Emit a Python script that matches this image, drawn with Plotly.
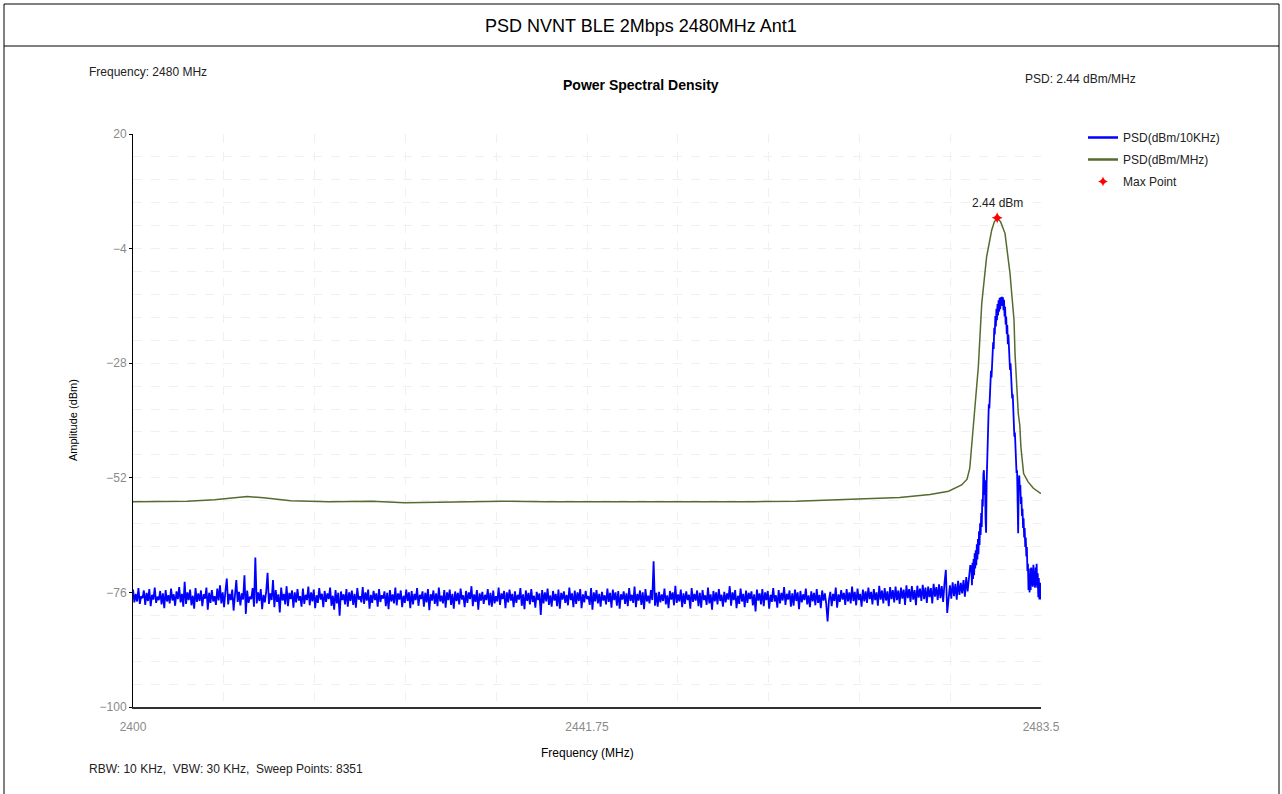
import numpy as np
import plotly.graph_objects as go

# ---------------- data ----------------
green_freq = [2400.0, 2402.5, 2405.0, 2407.5, 2409.0, 2410.5, 2412.0, 2414.5, 2418.0, 2422.0,
              2425.0, 2429.0, 2434.0, 2438.0, 2443.0, 2447.5, 2452.0, 2457.0, 2461.0, 2466.0,
              2470.5, 2473.3, 2475.0, 2476.2, 2476.7, 2476.95, 2477.1, 2477.28, 2477.43, 2477.74,
              2478.05, 2478.5, 2478.97, 2479.21, 2479.47, 2479.79, 2480.19, 2480.65, 2480.81, 2481.02,
              2481.11, 2481.25, 2481.41, 2481.55, 2481.65, 2481.9, 2482.3, 2482.8, 2483.5]
green_val = [-57.0, -57.0, -56.9, -56.6, -56.2, -55.9, -56.2, -56.8, -57.0, -56.9,
             -57.2, -57.0, -56.9, -57.0, -57.0, -57.1, -57.0, -57.0, -56.9, -56.5,
             -56.1, -55.5, -54.8, -53.5, -52.3, -50.0, -46.0, -42.0, -37.8, -28.7,
             -15.5, -5.7, -0.1, 1.6, 2.44, 1.6, -0.8, -9.2, -13.5, -19.0,
             -26.0, -33.0, -38.5, -41.0, -45.5, -51.1, -52.8, -54.2, -55.3]

# blue noise floor, 2400 MHz onwards, one value every 0.125 MHz
floor_start = 2400.0
floor_step = 0.125
blue_floor = [
    -75.4, -78.1, -76.3, -77.9, -75.1, -78.4, -76.8, -77.2, -75.6, -78.6,
    -76.1, -77.8, -75.3, -78.9, -76.5, -77.5, -75.0, -78.2, -76.9, -77.6,
    -75.7, -78.5, -76.2, -79.3, -75.5, -77.9, -76.6, -78.3, -75.2, -77.7,
    -76.4, -78.8, -75.8, -77.4, -74.9, -78.1, -76.3, -79.0, -73.8, -78.4,
    -76.0, -77.6, -75.4, -78.7, -76.7, -79.4, -75.1, -78.0, -76.2, -77.8,
    -75.6, -78.9, -76.4, -77.3, -75.0, -79.6, -76.1, -78.2, -75.5, -77.9,
    -76.8, -78.6, -75.2, -77.7, -74.5, -78.3, -76.0, -79.1, -75.7, -73.1,
    -78.5, -76.3, -77.6, -75.4, -79.8, -76.1, -73.4, -78.0, -75.9, -78.7,
    -76.2, -77.5, -72.4, -80.5, -75.6, -78.2, -76.9, -77.4, -75.1, -79.0,
    -68.7, -78.3, -76.0, -77.8, -75.3, -79.5, -76.5, -78.1, -75.8, -71.9,
    -78.4, -76.2, -77.6, -73.4, -79.1, -75.5, -78.0, -76.4, -80.2, -75.0,
    -77.7, -76.3, -78.5, -74.7, -78.9, -76.1, -77.4, -75.6, -79.2, -76.0,
    -78.1, -75.3, -77.7, -76.8, -79.0, -75.2, -78.4, -76.5, -77.6, -74.8,
    -78.7, -76.0, -77.9, -75.4, -79.3, -76.6, -78.2, -75.1, -77.5, -76.3,
    -79.1, -75.7, -78.0, -76.2, -77.4, -75.0, -78.8, -76.7, -79.6, -75.5,
    -78.3, -76.1, -80.9, -75.8, -77.6, -76.4, -78.5, -75.3, -79.0, -76.0,
    -77.8, -75.6, -78.6, -76.3, -79.2, -75.1, -77.5, -76.8, -78.1, -74.9,
    -78.4, -76.0, -77.7, -75.4, -79.4, -76.5, -78.2, -75.7, -77.6, -76.2,
    -79.0, -75.3, -78.0, -76.6, -77.3, -75.8, -78.9, -76.1, -79.5, -75.5,
    -77.9, -76.4, -78.3, -75.0, -78.7, -76.2, -77.5, -75.6, -79.1, -76.7,
    -78.2, -75.4, -77.8, -76.0, -79.3, -75.7, -78.5, -76.3, -77.6, -75.1,
    -78.8, -76.5, -77.4, -75.8, -79.0, -76.1, -78.1, -75.3, -79.7, -76.4,
    -77.7, -75.6, -78.4, -76.2, -78.9, -75.0, -77.9, -76.7, -78.3, -75.5,
    -79.2, -76.0, -77.6, -75.4, -78.6, -76.3, -79.4, -75.8, -77.8, -76.1,
    -78.5, -75.2, -77.5, -76.6, -79.1, -75.7, -78.2, -76.0, -77.4, -74.7,
    -78.9, -76.4, -78.0, -75.5, -79.6, -76.2, -77.7, -75.9, -78.4, -76.5,
    -77.6, -75.3, -78.7, -76.1, -79.0, -75.6, -78.3, -76.8, -77.9, -75.0,
    -78.6, -76.2, -77.4, -75.7, -79.3, -76.0, -78.1, -75.4, -77.7, -76.3,
    -79.1, -75.8, -78.2, -76.5, -77.5, -75.1, -78.8, -76.4, -79.5, -75.6,
    -77.8, -76.1, -78.5, -75.3, -78.0, -76.7, -79.2, -75.9, -77.6, -76.2,
    -80.7, -75.5, -78.3, -76.0, -77.9, -75.2, -78.6, -76.6, -79.0, -75.7,
    -77.7, -76.3, -78.9, -75.4, -79.4, -76.1, -77.5, -75.8, -78.2, -76.5,
    -78.7, -75.0, -77.6, -76.2, -79.1, -75.6, -78.4, -76.0, -77.8, -75.3,
    -79.3, -76.4, -78.1, -75.7, -77.4, -76.8, -78.6, -75.1, -79.6, -76.0,
    -77.9, -75.5, -78.3, -76.3, -79.0, -75.9, -77.7, -76.6, -78.5, -75.2,
    -78.0, -76.1, -79.2, -75.4, -77.6, -76.0, -78.8, -75.7, -79.4, -76.4,
    -77.5, -75.8, -78.4, -76.2, -78.9, -75.1, -77.8, -76.5, -78.2, -74.8,
    -79.1, -76.3, -77.7, -75.6, -78.6, -76.0, -79.5, -75.3, -77.9, -76.7,
    -78.3, -75.5, -77.6, -69.5, -78.8, -76.1, -79.0, -75.9, -78.1, -76.4,
    -77.8, -75.2, -78.5, -76.6, -79.3, -75.7, -77.5, -76.0, -78.7, -74.6,
    -78.2, -76.4, -77.9, -75.4, -79.1, -76.2, -78.4, -75.8, -77.6, -76.5,
    -79.4, -75.1, -78.0, -76.3, -77.7, -75.6, -78.9, -76.1, -79.2, -75.5,
    -77.6, -76.6, -78.6, -75.0, -78.3, -76.4, -79.6, -75.7, -77.9, -76.0,
    -78.5, -75.3, -77.8, -76.5, -79.0, -75.9, -78.1, -76.2, -77.5, -74.7,
    -78.8, -76.0, -77.6, -75.5, -79.3, -76.7, -78.4, -75.2, -77.9, -76.3,
    -79.1, -75.6, -78.2, -76.1, -77.4, -75.8, -78.7, -76.4, -80.0, -75.4,
    -77.7, -76.2, -78.5, -75.3, -78.9, -76.0, -77.6, -75.7, -79.4, -76.5,
    -78.0, -75.1, -77.9, -76.6, -79.2, -75.5, -78.3, -76.1, -77.7, -74.9,
    -78.6, -76.3, -77.5, -75.6, -79.0, -76.2, -78.8, -75.4, -77.8, -76.0,
    -79.5, -75.7, -78.1, -76.4, -77.6, -75.2, -78.5, -76.6, -79.1, -75.8,
    -77.9, -76.1, -78.7, -75.3, -78.2, -76.5, -79.3, -75.6, -77.7, -76.2,
    -78.4, -82.1, -77.6, -75.9, -78.9, -76.3, -77.8, -75.0, -79.2, -76.4,
    -78.0, -75.5, -77.5, -76.1, -78.6, -75.3, -77.9, -76.0, -78.3, -74.8,
    -77.8, -75.9, -78.7, -75.2, -77.6, -76.3, -79.0, -75.4, -77.9, -75.8,
    -78.2, -75.0, -77.4, -75.9, -78.5, -75.3, -77.6, -76.0, -78.8, -74.6,
    -77.5, -75.6, -78.3, -75.1, -77.7, -75.8, -78.9, -74.9, -77.4, -75.5,
    -78.1, -74.8, -77.6, -75.6, -78.4, -75.0, -77.3, -75.4, -78.6, -74.5,
    -77.2, -75.3, -78.0, -74.7, -77.5, -75.5, -78.7, -74.6, -77.1, -75.2,
    -77.8, -74.4, -77.4, -75.0, -78.2, -74.8, -77.0, -75.1, -78.3, -74.2,
    -76.9, -74.9, -77.6, -74.3, -77.2, -74.7, -78.0, -74.1, -71.3, -80.3,
    -76.7, -74.5, -77.3, -73.9, -76.8, -74.2, -77.5, -73.6, -76.5, -74.0,
    -76.2, -73.4, -76.9, -72.8, -75.8, -73.0, -70.3,
]

# blue emission, 2477.1 MHz onwards, one value every 0.05 MHz
peak_start = 2477.1
peak_step = 0.05
blue_peak = [
    -71.0, -74.5, -69.8, -73.2, -69.0, -72.4, -67.8, -71.0, -67.2, -70.3,
    -65.9, -69.1, -64.8, -68.0, -63.2, -66.1, -61.5, -64.0, -59.4, -62.3,
    -56.5, -58.0, -51.2, -50.4, -55.6, -52.5, -60.5, -63.5, -53.0, -48.5,
    -41.5, -41.8, -36.6, -37.5, -33.0, -34.6, -29.6, -31.0, -26.6, -28.0,
    -23.6, -25.0, -20.6, -22.0, -18.1, -20.3, -16.6, -19.0, -15.6, -18.0,
    -14.8, -17.2, -14.3, -16.7, -14.2, -15.9, -14.1, -16.0, -14.2, -16.9,
    -14.7, -18.2, -16.2, -19.9, -18.2, -21.9, -20.0, -24.0, -22.0, -26.4,
    -25.0, -29.4, -28.0, -32.4, -31.0, -35.4, -34.5, -39.4, -38.5, -43.4,
    -42.5, -47.4, -46.5, -51.0, -50.4, -57.5, -63.6, -53.5, -51.5, -54.5,
    -53.5, -57.5, -56.0, -60.0, -58.5, -62.5, -60.5, -64.5, -62.5, -66.5,
    -64.5, -68.5, -66.5, -71.5, -70.0, -75.5, -72.5, -76.0, -71.0, -75.5,
    -70.8, -74.5, -71.0, -74.8, -70.2, -74.5, -71.5, -75.0, -70.8, -74.5,
    -70.0, -75.0, -72.0, -77.0, -73.0, -77.5, -74.0, -77.5, -74.0,
]

max_freq = 2479.47
max_val = 2.44

x_ticks = [2400, 2441.75, 2483.5]
x_ticktext = ["2400", "2441.75", "2483.5"]
y_ticks = [-100, -76, -52, -28, -4, 20]

# ---------------- figure ----------------
W, H = 1282, 794
L, R, T, B = 133, 1041, 134, 707
FONT = "Liberation Sans, Arial, sans-serif"
BLUE = "#0000ff"
GREEN = "#556b2f"


def px(xp):
    return (xp - L) / (R - L)


def py(yp):
    return (B - yp) / (B - T)


blue_x = list(floor_start + floor_step * np.arange(len(blue_floor))) + \
    list(peak_start + peak_step * np.arange(len(blue_peak)))
blue_y = blue_floor + blue_peak

fig = go.Figure()
fig.add_trace(go.Scatter(x=blue_x, y=blue_y, mode="lines", showlegend=False,
                         line=dict(color=BLUE, width=1.8)))
fig.add_trace(go.Scatter(x=green_freq, y=green_val, mode="lines", showlegend=False,
                         line=dict(color=GREEN, width=1.5)))
fig.add_trace(go.Scatter(x=[max_freq], y=[max_val], mode="markers", showlegend=False,
                         marker=dict(color="#ff0000", symbol="star-diamond", size=8)))
# legend entries
fig.add_trace(go.Scatter(x=[None], y=[None], mode="lines", name="PSD(dBm/10KHz)",
                         legendgroup="a", line=dict(color=BLUE, width=2.5)))
fig.add_trace(go.Scatter(x=[None], y=[None], mode="lines", name="PSD(dBm/MHz)",
                         legendgroup="b", line=dict(color=GREEN, width=2.5)))
fig.add_trace(go.Scatter(x=[None], y=[None], mode="markers", name="Max Point",
                         legendgroup="c",
                         marker=dict(color="#ff0000", symbol="star-diamond", size=7)))

grid_color = "#f0f0f0"
fig.update_xaxes(range=[2400, 2483.5], tickvals=x_ticks, ticktext=x_ticktext,
                 showline=True, linecolor="#303030", linewidth=2, mirror=False,
                 showgrid=True, gridcolor=grid_color, griddash="dash", gridwidth=1,
                 ticks="", ticklabelstandoff=8, zeroline=False,
                 tickfont=dict(family=FONT, size=12, color="#8a8a8a"),
                 minor=dict(tick0=2400, dtick=8.35, showgrid=True, gridcolor=grid_color,
                            griddash="dash", gridwidth=1))
fig.update_yaxes(range=[-100, 20], tickvals=y_ticks,
                 showline=True, linecolor="#000000", linewidth=1,
                 showgrid=True, gridcolor=grid_color, griddash="dash", gridwidth=1,
                 ticks="outside", ticklen=3, tickcolor="#000000", zeroline=False,
                 tickfont=dict(family=FONT, size=12, color="#8a8a8a"),
                 minor=dict(tick0=-100, dtick=4.8, showgrid=True, gridcolor=grid_color,
                            griddash="dash", gridwidth=1))

annots = [
    dict(x=px(641), y=py(26), text="PSD NVNT BLE 2Mbps 2480MHz Ant1",
         font=dict(family=FONT, size=18, color="#000000"), xanchor="center", yanchor="middle"),
    dict(x=px(87), y=py(72), text="Frequency: 2480 MHz",
         font=dict(family=FONT, size=12, color="#222222"), xanchor="left", yanchor="middle"),
    dict(x=px(641), y=py(85), text="<b>Power Spectral Density</b>",
         font=dict(family=FONT, size=14, color="#000000"), xanchor="center", yanchor="middle"),
    dict(x=px(1023), y=py(79), text="PSD: 2.44 dBm/MHz",
         font=dict(family=FONT, size=12, color="#222222"), xanchor="left", yanchor="middle"),
    dict(x=px(73), y=py(420), text="Amplitude (dBm)", textangle=-90,
         font=dict(family=FONT, size=11, color="#000000"), xanchor="center", yanchor="middle"),
    dict(x=px(587), y=py(753), text="Frequency (MHz)",
         font=dict(family=FONT, size=12, color="#000000"), xanchor="center", yanchor="middle"),
    dict(x=px(87), y=py(769), text="RBW: 10 KHz,  VBW: 30 KHz,  Sweep Points: 8351",
         font=dict(family=FONT, size=12, color="#222222"), xanchor="left", yanchor="middle"),
]
for a in annots:
    a.update(xref="paper", yref="paper", showarrow=False)
annots.append(dict(x=max_freq, y=max_val, xref="x", yref="y", text="2.44 dBm", showarrow=False,
                   yshift=15, font=dict(family=FONT, size=12, color="#222222"),
                   xanchor="center", yanchor="middle"))

border = dict(color="#000000", width=1)
shapes = [
    dict(type="line", xref="paper", yref="paper", x0=px(4), x1=px(1279), y0=py(4), y1=py(4), line=border),
    dict(type="line", xref="paper", yref="paper", x0=px(4), x1=px(1279), y0=py(46), y1=py(46), line=border),
    dict(type="line", xref="paper", yref="paper", x0=px(4), x1=px(4), y0=py(4), y1=py(794), line=border),
    dict(type="line", xref="paper", yref="paper", x0=px(1279), x1=px(1279), y0=py(4), y1=py(794), line=border),
]

fig.update_layout(
    width=W, height=H,
    margin=dict(l=L, r=W - R, t=T, b=H - B),
    paper_bgcolor="#ffffff", plot_bgcolor="#ffffff",
    font=dict(family=FONT, size=12, color="#222222"),
    annotations=annots, shapes=shapes,
    showlegend=True,
    legend=dict(x=px(1083), y=py(123), xanchor="left", yanchor="top",
                font=dict(family=FONT, size=12, color="#222222"),
                bgcolor="rgba(0,0,0,0)", itemwidth=30, tracegroupgap=3),
)

fig.write_html("out.html", config={"displayModeBar": False},
               post_script="document.body.style.margin='0';document.body.style.overflow='hidden';")
